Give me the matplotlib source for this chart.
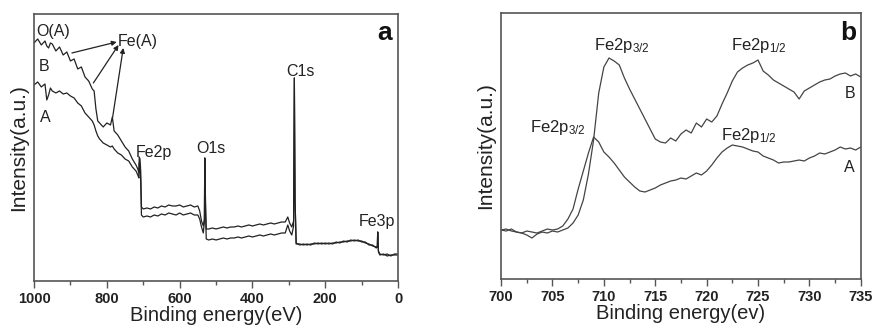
import matplotlib
matplotlib.use("Agg")
import matplotlib.pyplot as plt

plt.rcParams['font.family'] = ['Liberation Sans', 'DejaVu Sans']
plt.rcParams['mathtext.default'] = 'regular'

# ---------------- Panel a: survey spectra ----------------
energy_a = [1000, 990, 980, 970, 965, 960, 955, 950, 940, 930, 920, 910, 900, 890, 880, 870,
            860, 850, 840, 835, 830, 825, 820, 810, 800, 790, 785, 780, 770, 760, 750,
            740, 730, 720, 715, 712, 711, 709, 707, 705, 700, 690, 680, 670, 660, 650,
            640, 630, 620, 610, 600, 590, 580, 570, 560, 550, 545, 540, 535, 532, 531,
            529, 527, 520, 510, 500, 490, 480, 470, 460, 450, 440, 430, 420, 410, 400,
            390, 380, 370, 360, 350, 340, 330, 320, 310, 303, 298, 292, 287, 285, 283,
            280, 270, 260, 250, 240, 230, 220, 210, 200, 190, 180, 170, 160, 150, 140,
            130, 120, 110, 100, 90, 80, 70, 60, 57, 56, 54, 50, 40, 30, 20, 10, 0]

intensity_B = [238, 242, 236, 240, 235, 233, 238, 237, 230, 234, 226, 229, 220, 222, 212, 214,
               204, 200, 192, 190, 172, 160, 158, 154, 158, 156, 164, 150, 146, 140, 134,
               130, 122, 116, 112, 108, 124, 122, 110, 74, 72, 73, 72, 74, 73, 75,
               74, 76, 75, 75, 76, 74, 75, 76, 74, 75, 70, 60, 55, 62, 123,
               80, 52, 52, 53, 52, 53, 54, 53, 54, 54, 55, 54, 55, 56, 55,
               56, 57, 56, 57, 58, 57, 58, 59, 59, 64, 58, 54, 60, 203, 80,
               38, 36, 37, 36, 37, 37, 38, 37, 38, 37, 38, 38, 39, 39, 40,
               40, 41, 40, 40, 38, 37, 35, 34, 35, 49, 30, 27, 26, 27, 25, 27, 27]

intensity_A = [196, 199, 194, 197, 181, 186, 193, 190, 188, 190, 187, 188, 185, 183, 178, 175,
               168, 164, 160, 156, 150, 145, 142, 138, 136, 134, 135, 132, 128, 126, 122,
               120, 114, 110, 106, 103, 118, 116, 100, 66, 64, 65, 64, 66, 65, 67,
               66, 68, 67, 66, 68, 66, 67, 68, 66, 66, 62, 54, 48, 60, 123,
               70, 42, 41, 42, 41, 42, 43, 42, 43, 43, 44, 43, 44, 45, 44,
               45, 46, 45, 46, 47, 46, 47, 48, 48, 56, 50, 46, 55, 203, 80,
               37, 37, 36, 37, 36, 38, 37, 38, 37, 38, 37, 39, 38, 40, 39,
               41, 40, 41, 39, 39, 36, 36, 33, 34, 49, 29, 26, 27, 25, 26, 26, 26]

# ---------------- Panel b: Fe2p high resolution ----------------
energy_b = [700, 700.5, 701, 701.5, 702, 702.5, 703, 703.5, 704, 704.5, 705, 705.5, 706, 706.5,
            707, 707.5, 708, 708.5, 709, 709.5, 710, 710.5, 711, 711.5, 712, 712.5, 713, 713.5,
            714, 714.5, 715, 715.5, 716, 716.5, 717, 717.5, 718, 718.5, 719, 719.5, 720, 720.5,
            721, 721.5, 722, 722.5, 723, 723.5, 724, 724.5, 725, 725.5, 726, 726.5, 727, 727.5,
            728, 728.5, 729, 729.5, 730, 730.5, 731, 731.5, 732, 732.5, 733, 733.5, 734, 734.5, 735]

fe2p_B = [49, 48, 50, 47, 46, 44, 41, 45, 47, 46, 48, 47, 49, 51,
          56, 64, 79, 105, 139, 186, 212, 221, 218, 214, 201, 190, 180, 170,
          160, 150, 140, 137, 136, 141, 138, 145, 149, 146, 156, 152, 160, 157,
          163, 175, 186, 198, 207, 211, 214, 216, 219, 208, 204, 199, 196, 193,
          190, 187, 180, 188, 191, 194, 197, 199, 200, 203, 205, 206, 203, 205, 202]

fe2p_A = [49, 50, 48, 47, 46, 48, 47, 46, 48, 50, 49, 50, 53, 60,
          70, 90, 108, 126, 142, 137, 127, 122, 116, 109, 102, 97, 92, 88,
          87, 89, 91, 94, 96, 98, 99, 101, 100, 103, 106, 104, 108, 114,
          121, 127, 131, 134, 133, 132, 130, 128, 127, 123, 121, 119, 116, 117,
          117, 118, 119, 118, 121, 123, 126, 125, 127, 129, 132, 130, 131, 129, 132]

ticks_a = [1000, 800, 600, 400, 200, 0]
minor_a = [900, 700, 500, 300, 100]
ticks_b = [700, 705, 710, 715, 720, 725, 730, 735]
minor_b = [702.5, 707.5, 712.5, 717.5, 722.5, 727.5, 732.5]

fig = plt.figure(figsize=(8.73, 3.25), dpi=100)
axa = fig.add_axes([0.039, 0.1354, 0.417, 0.8216])
axb = fig.add_axes([0.574, 0.1415, 0.412, 0.8185])

axa.plot(energy_a, intensity_B, color='#222222', lw=0.9)
axa.plot(energy_a, intensity_A, color='#222222', lw=0.9)
axb.plot(energy_b, fe2p_B, color='#444444', lw=0.9)
axb.plot(energy_b, fe2p_A, color='#444444', lw=0.9)

for ax in (axa, axb):
    for s in ax.spines.values():
        s.set_color('#555555')
        s.set_linewidth(1.2)
    ax.set_yticks([])
    ax.tick_params(axis='x', which='both', direction='out', colors='#555555',
                   labelcolor='#222222', labelsize=10.5, pad=3)
    ax.tick_params(axis='x', which='major', length=5, width=1)
    ax.tick_params(axis='x', which='minor', length=3, width=1)
    ax.set_ylabel('Intensity(a.u.)', fontsize=15, color='#222222', labelpad=4)

axa.set_xlim(1000, 0)
axa.set_ylim(0, 267)
axa.set_xticks(ticks_a)
axa.set_xticks(minor_a, minor=True)
axa.set_xticklabels([str(t) for t in ticks_a], fontweight='bold')
axa.set_xlabel('Binding energy(eV)', fontsize=14.5, color='#222222', labelpad=0)

axb.set_xlim(700, 735)
axb.set_ylim(0, 266)
axb.set_xticks(ticks_b)
axb.set_xticks(minor_b, minor=True)
axb.set_xticklabels([str(t) for t in ticks_b], fontweight='bold')
axb.set_xlabel('Binding energy(ev)', fontsize=14.5, color='#222222', labelpad=0)

tkw = dict(fontsize=11.5, color='#222222')
axa.text(995, 249, 'O(A)', ha='left', va='center', **tkw)
axa.text(769, 239, 'Fe(A)', ha='left', va='center', **tkw)
axa.text(986, 214, 'B', ha='left', va='center', **tkw)
axa.text(984, 163, 'A', ha='left', va='center', **tkw)
axa.text(720, 128, 'Fe2p', ha='left', va='center', **tkw)
axa.text(555, 132, 'O1s', ha='left', va='center', **tkw)
axa.text(308, 209, 'C1s', ha='left', va='center', **tkw)
axa.text(107, 59, 'Fe3p', ha='left', va='center', **tkw)
axa.text(57, 248, 'a', ha='left', va='center', fontsize=19, fontweight='bold', color='#111111')

akw = dict(arrowstyle='-|>', color='#222222', lw=0.9, mutation_scale=7, shrinkA=0, shrinkB=0)
axa.annotate('', xy=(773, 239), xytext=(896, 228), arrowprops=akw)
axa.annotate('', xy=(768, 236), xytext=(837, 198), arrowprops=akw)
axa.annotate('', xy=(755, 233), xytext=(784, 164), arrowprops=akw)

skw = dict(fontsize=12, color='#222222')
axb.text(709.0, 234, 'Fe2p$_{3/2}$', ha='left', va='center', **skw)
axb.text(722.4, 234, 'Fe2p$_{1/2}$', ha='left', va='center', **skw)
axb.text(702.8, 152, 'Fe2p$_{3/2}$', ha='left', va='center', **skw)
axb.text(721.4, 144, 'Fe2p$_{1/2}$', ha='left', va='center', **skw)
axb.text(733.4, 186, 'B', ha='left', va='center', **tkw)
axb.text(733.4, 112, 'A', ha='left', va='center', **tkw)
axb.text(733.0, 246, 'b', ha='left', va='center', fontsize=19, fontweight='bold', color='#111111')

fig.savefig('out.png', dpi=100)
